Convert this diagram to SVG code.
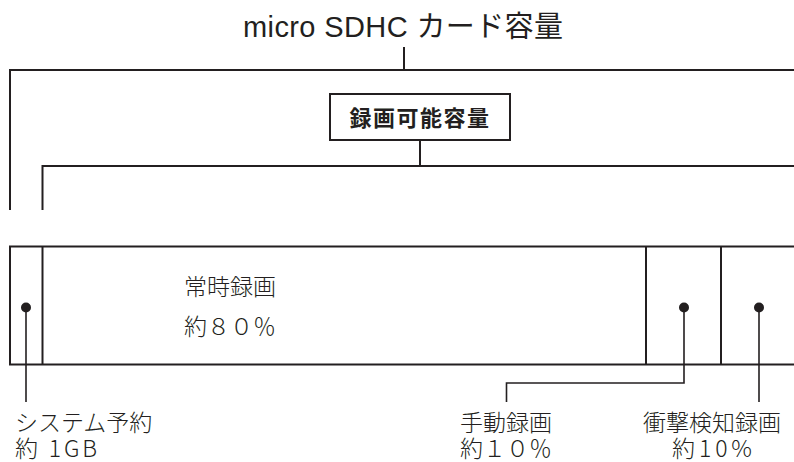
<svg xmlns="http://www.w3.org/2000/svg" width="794" height="462" viewBox="0 0 794 462">
  <style>
    .ln { stroke: #231f20; stroke-width: 2; fill: none; }
    .thin { stroke: #231f20; stroke-width: 1.6; fill: none; }
    .dot { fill: #231f20; }
    .t { font-family: "Liberation Sans", "Noto Sans CJK JP", sans-serif; fill: #231f20; }
    .lbl { font-family: "Noto Sans CJK JP", "Noto Sans", sans-serif; font-size: 23px; font-weight: 300; fill: #231f20; }
    .bold { font-family: "Noto Sans CJK JP", sans-serif; font-size: 22px; font-weight: 700; fill: #231f20; }
  </style>
  <rect width="794" height="462" fill="#ffffff"/>

  <g id="title">
    <text class="t" x="243" y="37" font-size="29" textLength="320" lengthAdjust="spacing">micro SDHC カード容量</text>
  </g>

  <g id="recordable">
    <rect class="ln" x="330" y="94" width="180" height="46" fill="#ffffff"/>
    <text class="bold" x="420" y="126" text-anchor="middle" letter-spacing="1.5">録画可能容量</text>
  </g>

  <g id="bar">
    <rect class="ln" x="10" y="246.5" width="790" height="118"/>
    <line class="ln" x1="42.5" y1="246.5" x2="42.5" y2="364.5"/>
    <line class="ln" x1="646" y1="246.5" x2="646" y2="364.5"/>
    <line class="ln" x1="721" y1="246.5" x2="721" y2="364.5"/>
  </g>

  <g id="system">
    <circle class="dot" cx="26" cy="307.5" r="5"/>
    <text class="lbl" x="15" y="431">システム予約</text>
    <text class="lbl" x="15" y="457" textLength="82" lengthAdjust="spacing">約 1GB</text>
  </g>

  <g id="continuous">
    <text class="lbl" x="184" y="295">常時録画</text>
    <text class="lbl" x="184" y="335">約８０％</text>
  </g>

  <g id="manual">
    <circle class="dot" cx="684" cy="307.5" r="5"/>
    <text class="lbl" x="460" y="431">手動録画</text>
    <text class="lbl" x="460" y="457">約１０％</text>
  </g>

  <g id="impact">
    <circle class="dot" cx="759" cy="307.5" r="5"/>
    <text class="lbl" x="712" y="431" text-anchor="middle">衝撃検知録画</text>
    <text class="lbl" x="672" y="457" textLength="80" lengthAdjust="spacing">約10%</text>
  </g>

  <g id="connectors">
    <polyline class="ln" points="10,210 10,70 794,70"/>
    <line class="ln" x1="404" y1="47" x2="404" y2="70"/>
    <polyline class="ln" points="42.5,210 42.5,166 794,166"/>
    <line class="ln" x1="420" y1="140" x2="420" y2="166"/>
    <line class="thin" x1="26" y1="307.5" x2="26" y2="402"/>
    <polyline class="thin" points="684,307.5 684,383 506.5,383 506.5,402"/>
    <line class="thin" x1="759" y1="307.5" x2="759" y2="402"/>
  </g>
</svg>
